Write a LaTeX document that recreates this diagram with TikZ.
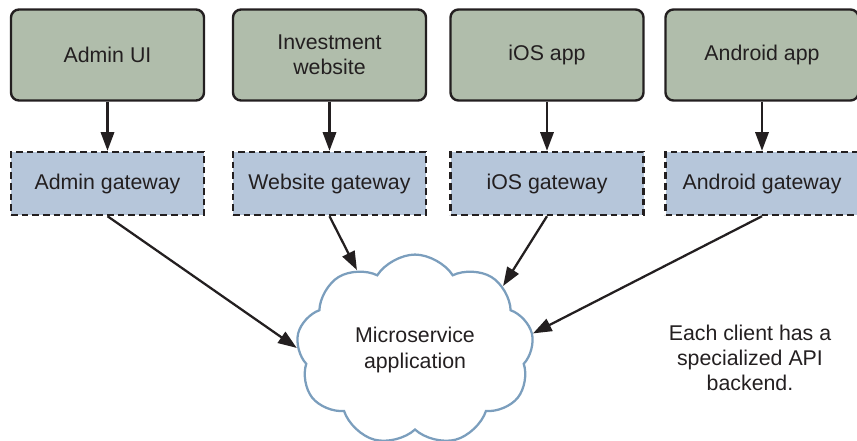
\documentclass[tikz,border=0pt]{standalone}
\usepackage{fontspec}
\setmainfont{Liberation Sans}
\usetikzlibrary{shapes.symbols,arrows.meta}
\definecolor{clientfill}{HTML}{B0BDAB}
\definecolor{gatefill}{HTML}{B6C6DA}
\definecolor{cloudline}{HTML}{7B9EBD}
\definecolor{inkgray}{HTML}{231F20}

\begin{document}
\begin{tikzpicture}[x=0.75pt, y=-0.75pt, >={Triangle[length=14pt,width=10pt]},
  font=\fontsize{16}{19}\selectfont, text=inkgray,
  client/.style={draw=inkgray, line width=1.8pt, fill=clientfill, rounded corners=6pt,
    minimum width=144.75pt, minimum height=68.25pt, align=center},
  gateway/.style={draw=inkgray, line width=1.8pt, fill=gatefill, dash pattern=on 5pt off 3pt,
    minimum width=144.75pt, minimum height=47.25pt},
  cloudy/.style={cloud, cloud puffs=9, cloud puff arc=115, draw=cloudline, line width=1.7pt,
    minimum width=178pt, minimum height=142pt, align=center, inner sep=0pt},
  link/.style={->, line width=1.7pt, draw=inkgray}]
\useasboundingbox (0,0) rectangle (857,440);
% clients
\node[client] (admin) at (107.5,55) {Admin UI};
\node[client] (invest) at (329.5,55) {Investment\\website};
\node[client] (ios) at (547,55) {iOS app};
\node[client] (android) at (762,55) {Android app};
% gateways
\node[gateway] (admingw) at (107.5,183.5) {Admin gateway};
\node[gateway] (investgw) at (329.5,183.5) {Website gateway};
\node[gateway] (iosgw) at (547,183.5) {iOS gateway};
\node[gateway] (androidgw) at (762,183.5) {Android gateway};
% backend
\node[cloudy] (app) at (415,350) {Microservice\\application};
\node[align=center] (note) at (750,358) {Each client has a\\specialized API\\backend.};
\foreach \c in {admin,invest,ios,android}
  \draw[link] (\c.south) -- (\c gw.north);
\draw[link] (admingw.south) -- (app.179);
\draw[link] (investgw.south) -- (app.126);
\draw[link] (iosgw.south) -- (app.36);
\draw[link] (androidgw.south) -- (app.8);
\end{tikzpicture}
\end{document}
